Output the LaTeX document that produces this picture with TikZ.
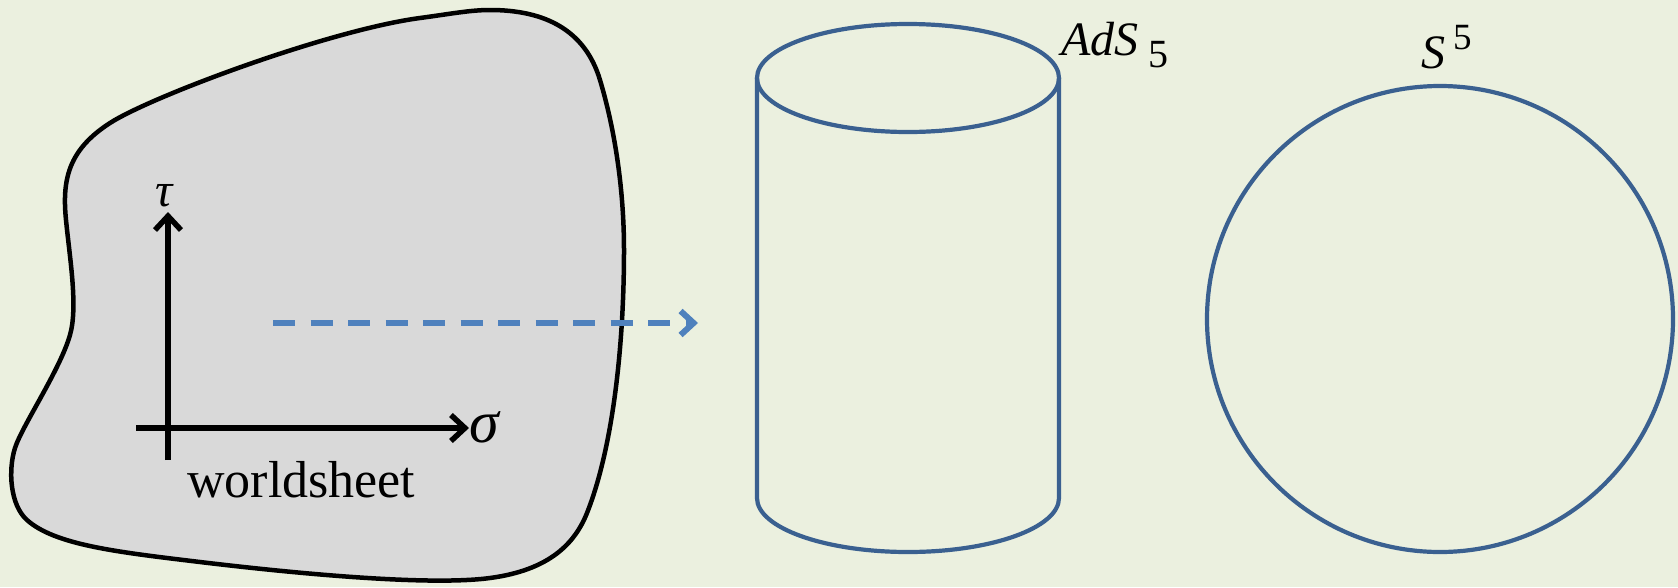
\documentclass[tikz,border=0pt]{standalone}
\usepackage{fontspec}
\setmainfont{Liberation Serif}
\usetikzlibrary{arrows.meta}
\definecolor{bgcol}{HTML}{EBF0DF}
\definecolor{sheetfill}{HTML}{D9D9D9}
\definecolor{darkblue}{HTML}{3A6090}
\definecolor{lightblue}{HTML}{4F81BD}
\tikzset{
  sheet/.style={draw=black, line width=4.5pt, fill=sheetfill, line join=round},
  bluebody/.style={draw=darkblue, line width=4.2pt},
  axis/.style={draw=black, line width=5.5pt, -{Straight Barb[length=14pt,width=26pt]}},
  maparrow/.style={draw=lightblue, line width=6pt, dash pattern=on 22pt off 15.5pt, -{Straight Barb[length=13pt,width=24pt]}},
  lbl/.style={inner sep=0pt, anchor=base west, font=\fontsize{48}{56}\selectfont}
}
\begin{document}
\begin{tikzpicture}[x=1pt,y=-1pt]
\fill[bgcol] (0,0) rectangle (1678,587);
\useasboundingbox (0,0) rectangle (1678,587);
% worldsheet blob
\draw[sheet] (490,10)
  .. controls (545,10) and (585,30) .. (600,80)
  .. controls (615,130) and (624,190) .. (624,250)
  .. controls (624,350) and (612,450) .. (587,513)
  .. controls (575,543) and (550,570) .. (490,578)
  .. controls (430,586) and (300,574) .. (200,562)
  .. controls (117,552) and (55,545) .. (27,520)
  .. controls (10,505) and (8,470) .. (15,448)
  .. controls (22,426) and (60,370) .. (70,335)
  .. controls (78,307) and (70,260) .. (66,220)
  .. controls (62,180) and (68,150) .. (110,123)
  .. controls (152,96) and (330,30) .. (420,18)
  .. controls (450,14) and (470,10) .. (490,10) -- cycle;
% axes
\coordinate (tbot) at (168,460);
\coordinate (ttop) at (168,212);
\coordinate (sleft) at (136,428);
\coordinate (sright) at (469,428);
\draw[axis] (tbot) -- (ttop);
\draw[axis] (sleft) -- (sright);
\node[lbl, font=\fontsize{48}{56}\selectfont\itshape] (tau) at (155,206) {τ};
\node[lbl, font=\fontsize{60}{66}\selectfont\itshape] (sigma) at (469,442) {σ};
\node[lbl, font=\fontsize{52}{58}\selectfont] (ws) at (187,497) {worldsheet};
% map arrow
\coordinate (mstart) at (273,323);
\coordinate (mend) at (698,323);
\draw[maparrow] (mstart) -- (mend);
% AdS5 cylinder
\draw[bluebody] (908,78) ellipse [x radius=151, y radius=54];
\draw[bluebody] (757,78) -- (757,498) arc[start angle=180, end angle=0, x radius=151, y radius=54] -- (1059,78);
\node[lbl] (ads) at (1061,55) {\itshape AdS\hspace{10pt}\raisebox{-12pt}{\fontsize{40}{44}\upshape\selectfont 5}};
% S5 sphere
\draw[bluebody] (1440,319) circle[radius=233];
\node[lbl] (s5) at (1421,68) {\itshape S\hspace{8pt}\raisebox{19pt}{\fontsize{37}{40}\upshape\selectfont 5}};
\end{tikzpicture}
\end{document}
